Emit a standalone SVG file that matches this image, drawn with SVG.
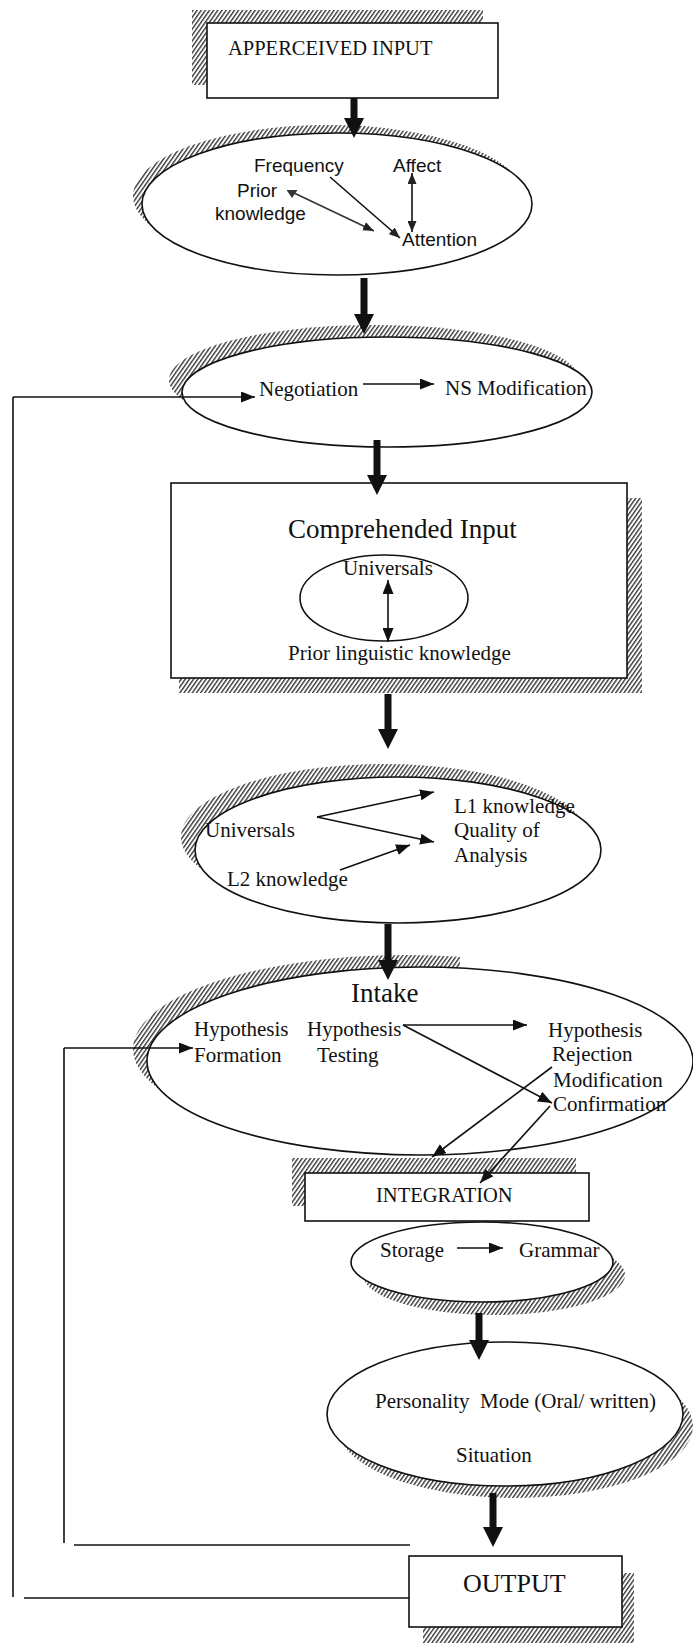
<svg xmlns="http://www.w3.org/2000/svg" width="693" height="1643" viewBox="0 0 693 1643">
  <style>
    .node { fill: #fff; stroke: #111; stroke-width: 1.6; }
    .shadow { fill: url(#hatch); stroke: none; }
    .t { font-family: "Liberation Serif", "Times New Roman", serif; font-size: 21px; fill: #111; }
    .ts { font-family: "Liberation Sans", Arial, sans-serif; font-size: 19px; fill: #111; }
    .big { font-size: 27px; }
    .cap { font-size: 20.5px; }
    .ln { stroke: #111; stroke-width: 1.6; fill: none; }
    .thick { fill: #111; stroke: none; }
  </style>
  <defs>
    <pattern id="hatch" width="3.4" height="3.4" patternUnits="userSpaceOnUse" patternTransform="rotate(35)">
      <rect x="0" y="0" width="1.4" height="3.4" fill="#383838"/>
    </pattern>
    <marker id="ah" viewBox="0 0 14 11" refX="14" refY="5.5" markerWidth="14" markerHeight="11" markerUnits="userSpaceOnUse" orient="auto-start-reverse">
      <path d="M0,0 L14,5.5 L0,11 z" fill="#111"/>
    </marker>
    <marker id="ahs" viewBox="0 0 11 9" refX="11" refY="4.5" markerWidth="11" markerHeight="9" markerUnits="userSpaceOnUse" orient="auto-start-reverse">
      <path d="M0,0 L11,4.5 L0,9 z" fill="#222"/>
    </marker>
    <marker id="down" viewBox="0 0 11 8" refX="5.5" refY="2" markerWidth="11" markerHeight="8" markerUnits="userSpaceOnUse" orient="0">
      <path d="M0,0 L11,0 L5.5,8 z" fill="#333"/>
    </marker>
    <clipPath id="clipIntake"><rect x="0" y="900" width="460" height="300"/></clipPath>
    <clipPath id="clipStorage"><rect x="300" y="1255" width="393" height="80"/></clipPath>
    <clipPath id="clipPers"><rect x="300" y="1400" width="393" height="110"/></clipPath>
  </defs>

  <!-- apperceived input -->
  <g id="apperceived">
    <rect class="shadow" x="192" y="10" width="291" height="75"/>
    <rect class="node" x="207" y="23" width="291" height="75"/>
    <text class="t cap" x="228" y="55">APPERCEIVED INPUT</text>
  </g>

  <!-- filters: frequency, affect, prior knowledge, attention -->
  <g id="filters">
    <ellipse class="shadow" cx="328" cy="196" rx="195" ry="71"/>
    <ellipse class="node" cx="337" cy="204" rx="195" ry="71"/>
    <text class="ts" x="254" y="172">Frequency</text>
    <text class="ts" x="393" y="172">Affect</text>
    <text class="ts" x="237" y="197">Prior</text>
    <text class="ts" x="215" y="220">knowledge</text>
    <text class="ts" x="402" y="246">Attention</text>
  </g>

  <!-- negotiation -->
  <g id="negotiation">
    <ellipse class="shadow" cx="374" cy="380" rx="205" ry="55"/>
    <ellipse class="node" cx="387" cy="392" rx="205" ry="55"/>
    <text class="t" x="259" y="396">Negotiation</text>
    <text class="t" x="445" y="395">NS Modification</text>
  </g>

  <!-- comprehended input -->
  <g id="comprehended">
    <rect class="shadow" x="179" y="498" width="463" height="195"/>
    <rect class="node" x="171" y="483" width="456" height="195"/>
    <text class="t big" x="288" y="538">Comprehended Input</text>
    <ellipse class="node" cx="384" cy="598" rx="84" ry="43"/>
    <text class="t" x="343" y="575">Universals</text>
    <text class="t" x="288" y="660">Prior linguistic knowledge</text>
  </g>

  <!-- analysis -->
  <g id="analysis">
    <ellipse class="shadow" cx="384" cy="837" rx="203" ry="73"/>
    <ellipse class="node" cx="398" cy="850" rx="203" ry="73"/>
    <text class="t" x="205" y="837">Universals</text>
    <text class="t" x="454" y="813">L1 knowledge</text>
    <text class="t" x="454" y="837">Quality of</text>
    <text class="t" x="454" y="862">Analysis</text>
    <text class="t" x="227" y="886">L2 knowledge</text>
  </g>

  <!-- intake -->
  <g id="intake">
    <ellipse class="shadow" cx="406" cy="1049" rx="273" ry="94" clip-path="url(#clipIntake)"/>
    <ellipse class="node" cx="420" cy="1061" rx="273" ry="94"/>
    <text class="t big" x="351" y="1002">Intake</text>
    <text class="t" x="194" y="1036">Hypothesis</text>
    <text class="t" x="194" y="1062">Formation</text>
    <text class="t" x="307" y="1036">Hypothesis</text>
    <text class="t" x="317" y="1062">Testing</text>
    <text class="t" x="548" y="1037">Hypothesis</text>
    <text class="t" x="552" y="1061">Rejection</text>
    <text class="t" x="553" y="1087">Modification</text>
    <text class="t" x="553" y="1111">Confirmation</text>
  </g>

  <!-- integration -->
  <g id="integration">
    <rect class="shadow" x="292" y="1158" width="284" height="48"/>
    <rect class="node" x="305" y="1173" width="284" height="48"/>
    <text class="t cap" x="376" y="1202">INTEGRATION</text>
  </g>

  <!-- storage -->
  <g id="storage">
    <ellipse class="shadow" cx="494" cy="1275" rx="131" ry="40" clip-path="url(#clipStorage)"/>
    <ellipse class="node" cx="482" cy="1262" rx="131" ry="40"/>
    <text class="t" x="380" y="1257">Storage</text>
    <text class="t" x="519" y="1257">Grammar</text>
  </g>

  <!-- personality / mode / situation -->
  <g id="personality">
    <ellipse class="shadow" cx="515" cy="1426" rx="178" ry="72" clip-path="url(#clipPers)"/>
    <ellipse class="node" cx="505" cy="1414" rx="178" ry="72"/>
    <text class="t" x="375" y="1408" xml:space="preserve">Personality  Mode (Oral/ written)</text>
    <text class="t" x="456" y="1462">Situation</text>
  </g>

  <!-- output -->
  <g id="output">
    <rect class="shadow" x="423" y="1573" width="211" height="70"/>
    <rect class="node" x="409" y="1556" width="213" height="71"/>
    <text class="t" x="463" y="1592" style="font-size:26px">OUTPUT</text>
  </g>

  <g id="connectors">
    <!-- main flow -->
    <path class="thick" d="M350.5,98 L357.5,98 L357.5,118 L364,118 L354,138 L344,118 L350.5,118 Z"/>
    <path class="thick" d="M360.5,278 L367.5,278 L367.5,314 L374,314 L364,334 L354,314 L360.5,314 Z"/>
    <path class="thick" d="M373.5,440 L380.5,440 L380.5,475 L387,475 L377,495 L367,475 L373.5,475 Z"/>
    <path class="thick" d="M384.5,694 L391.5,694 L391.5,729 L398,729 L388,749 L378,729 L384.5,729 Z"/>
    <path class="thick" d="M384.5,924 L391.5,924 L391.5,960 L398,960 L388,980 L378,960 L384.5,960 Z"/>
    <path class="thick" d="M475.5,1313 L482.5,1313 L482.5,1340 L489,1340 L479,1360 L469,1340 L475.5,1340 Z"/>
    <path class="thick" d="M489.5,1493 L496.5,1493 L496.5,1527 L503,1527 L493,1547 L483,1527 L489.5,1527 Z"/>

    <!-- filters -->
    <line class="ln" x1="330" y1="177" x2="400" y2="238" marker-end="url(#ahs)"/>
    <line class="ln" x1="292" y1="192" x2="374" y2="231" style="stroke:#333" marker-start="url(#down)" marker-end="url(#ahs)"/>
    <line class="ln" x1="412" y1="173" x2="412" y2="232" marker-start="url(#ahs)" marker-end="url(#ahs)"/>

    <!-- negotiation -->
    <line class="ln" x1="363" y1="384" x2="434" y2="384" marker-end="url(#ah)"/>

    <!-- comprehended input -->
    <line class="ln" x1="388" y1="580" x2="388" y2="642" marker-start="url(#ah)" marker-end="url(#ah)"/>

    <!-- analysis -->
    <line class="ln" x1="317" y1="817" x2="434" y2="792" marker-end="url(#ah)"/>
    <line class="ln" x1="317" y1="817" x2="434" y2="842" marker-end="url(#ah)"/>
    <line class="ln" x1="340" y1="870" x2="410" y2="845" marker-end="url(#ah)"/>

    <!-- hypothesis testing -->
    <line class="ln" x1="403" y1="1025" x2="527" y2="1025" marker-end="url(#ah)"/>
    <line class="ln" x1="403" y1="1025" x2="552" y2="1103" marker-end="url(#ah)"/>
    <line class="ln" x1="552" y1="1067" x2="432" y2="1157" marker-end="url(#ah)"/>
    <line class="ln" x1="550" y1="1106" x2="480" y2="1183" marker-end="url(#ah)"/>

    <!-- storage -->
    <line class="ln" x1="457" y1="1248" x2="503" y2="1248" marker-end="url(#ah)"/>

    <!-- feedback from output -->
    <line class="ln" x1="409" y1="1598" x2="24" y2="1598"/>
    <line class="ln" x1="13" y1="1597" x2="13" y2="397"/>
    <line class="ln" x1="13" y1="397" x2="255" y2="397" marker-end="url(#ah)"/>
    <line class="ln" x1="410" y1="1545" x2="74" y2="1545"/>
    <line class="ln" x1="64" y1="1543" x2="64" y2="1048"/>
    <line class="ln" x1="64" y1="1048" x2="193" y2="1048" marker-end="url(#ah)"/>
  </g>
</svg>
